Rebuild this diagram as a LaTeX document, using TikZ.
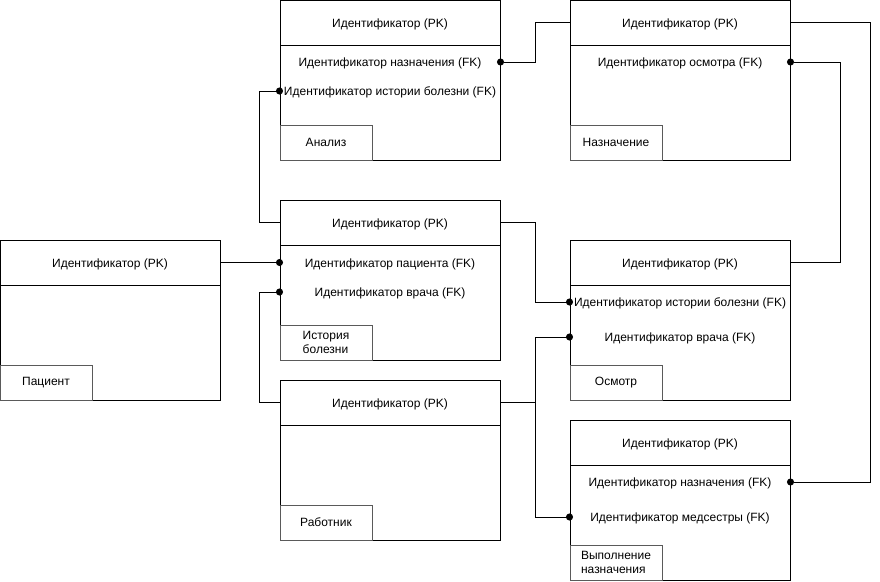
\documentclass[tikz,border=0pt]{standalone}
\usepackage{fontspec}
\setmainfont{Liberation Sans}
\usetikzlibrary{arrows.meta}
\definecolor{myedgecolor}{HTML}{000000}
\definecolor{mysepcolor}{HTML}{5a5a5a}

\tikzset{
  head/.style={draw=myedgecolor, rectangle, minimum width=220pt, minimum height=45pt, inner sep=0pt, text height=10pt, text depth=0.5pt, font=\fontsize{12pt}{14pt}\selectfont},
  body/.style={draw=myedgecolor, rectangle, minimum width=220pt, minimum height=115pt, inner sep=0pt},
  row/.style={inner sep=0pt, text height=10pt, text depth=0.5pt, font=\fontsize{12pt}{14pt}\selectfont},
  tag/.style={draw=mysepcolor, rectangle, anchor=south west, minimum width=92pt, minimum height=35pt, inner sep=0pt, align=left, font=\fontsize{12pt}{14pt}\selectfont},
  link/.style={draw=myedgecolor, line width=1pt},
  dotstart/.style={{Circle[length=7pt,width=7pt]}-, shorten <=-3.5pt},
  dotend/.style={-{Circle[length=7pt,width=7pt]}, shorten >=-3.5pt},
}

\begin{document}
\begin{tikzpicture}[x=1pt, y=-1pt, line width=1pt]%
\useasboundingbox (0,0) rectangle (880,581);%
% Анализ
\node[head] (an-pk) at (390, 22.5) {Идентификатор (PK)};%
\node[body] (an-body) at (390, 102.5) {};%
\node[row] (an-r1) at (390, 62) {Идентификатор назначения (FK)};%
\node[row] (an-r2) at (390, 91) {Идентификатор истории болезни (FK)};%
\node[tag] (an-tag) at (an-body.south west) {Анализ};%
% Назначение
\node[head] (naz-pk) at (680, 22.5) {Идентификатор (PK)};%
\node[body] (naz-body) at (680, 102.5) {};%
\node[row] (naz-r1) at (680, 62) {Идентификатор осмотра (FK)};%
\node[tag] (naz-tag) at (naz-body.south west) {Назначение};%
% История болезни
\node[head] (ib-pk) at (390, 222.5) {Идентификатор (PK)};%
\node[body] (ib-body) at (390, 302.5) {};%
\node[row] (ib-r1) at (390, 262.5) {Идентификатор пациента (FK)};%
\node[row] (ib-r2) at (390, 292) {Идентификатор врача (FK)};%
\node[tag] (ib-tag) at (ib-body.south west) {История\\болезни};%
% Пациент
\node[head] (pac-pk) at (110, 262.5) {Идентификатор (PK)};%
\node[body] (pac-body) at (110, 342.5) {};%
\node[tag] (pac-tag) at (pac-body.south west) {Пациент};%
% Осмотр
\node[head] (osm-pk) at (680, 262.5) {Идентификатор (PK)};%
\node[body] (osm-body) at (680, 342.5) {};%
\node[row] (osm-r1) at (680, 302) {Идентификатор истории болезни (FK)};%
\node[row] (osm-r2) at (680, 337) {Идентификатор врача (FK)};%
\node[tag] (osm-tag) at (osm-body.south west) {Осмотр};%
% Работник
\node[head] (rab-pk) at (390, 402.5) {Идентификатор (PK)};%
\node[body] (rab-body) at (390, 482.5) {};%
\node[tag] (rab-tag) at (rab-body.south west) {Работник};%
% Выполнение назначения
\node[head] (vn-pk) at (680, 442.5) {Идентификатор (PK)};%
\node[body] (vn-body) at (680, 522.5) {};%
\node[row] (vn-r1) at (680, 482) {Идентификатор назначения (FK)};%
\node[row] (vn-r2) at (680, 517) {Идентификатор медсестры (FK)};%
\node[tag] (vn-tag) at (vn-body.south west) {Выполнение\\назначения};%
% связи
\draw[link, dotstart] (an-body.east |- an-r1) -- ++(35,0) |- (naz-pk.west);%
\draw[link, dotstart] (an-body.west |- an-r2) -- ++(-20,0) |- (ib-pk.west);%
\draw[link, dotstart] (naz-body.east |- naz-r1) -- ++(50,0) |- (osm-pk.east);%
\draw[link, dotend] (naz-pk.east) -- ++(80,0) |- (vn-body.east |- vn-r1);%
\draw[link, dotend] (pac-pk.east) -- (ib-body.west |- ib-r1);%
\draw[link, dotstart] (ib-body.west |- ib-r2) -- ++(-20,0) |- (rab-pk.west);%
\draw[link, dotend] (ib-pk.east) -- ++(35,0) |- (osm-body.west |- osm-r1);%
\draw[link, dotend] (rab-pk.east) -- ++(35,0) coordinate (rab-j) |- (osm-body.west |- osm-r2);%
\draw[link, dotend] (rab-j) |- (vn-body.west |- vn-r2);%
\end{tikzpicture}
\end{document}
